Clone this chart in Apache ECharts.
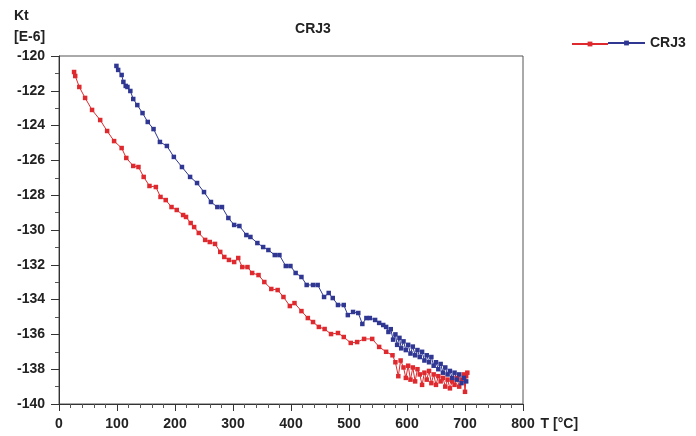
<!DOCTYPE html>
<html>
<head>
<meta charset="utf-8">
<script src="https://cdn.jsdelivr.net/npm/echarts@6/dist/echarts.min.js"></script>
<style>html,body{margin:0;padding:0;background:#fff}#c{width:696px;height:436px}</style>
</head>
<body>
<div id="c"></div>
<script>
// Heating branch (red) - temperature [°C]
const redT = [26,28,35,45,57,71,83,95,108,116,128,137,146,156,167,175,184,194,203,214,219,227,233,241,252,260,269,278,285,293,302,309,316,325,333,344,354,366,377,387,398,406,418,429,438,448,458,469,481,491,503,514,526,540,552,564,575,580,585,589,594,598,602,606,610,614,618,622,626,630,634,638,642,646,650,654,658,662,666,670,674,678,682,686,690,694,698,700,702,704];
const redK = [-120.92,-121.15,-121.78,-122.41,-123.10,-123.68,-124.31,-124.89,-125.29,-125.86,-126.32,-126.38,-126.95,-127.47,-127.53,-128.10,-128.28,-128.68,-128.85,-129.14,-129.25,-129.60,-129.83,-130.17,-130.57,-130.69,-130.80,-131.26,-131.55,-131.72,-131.84,-131.61,-132.13,-132.13,-132.47,-132.59,-132.99,-133.39,-133.45,-133.85,-134.37,-134.20,-134.66,-135.06,-135.29,-135.57,-135.69,-135.98,-135.92,-136.15,-136.49,-136.44,-136.26,-136.26,-136.72,-137.0,-137.2,-137.6,-138.4,-137.5,-137.9,-138.5,-137.8,-138.6,-137.9,-138.7,-138.0,-138.3,-138.9,-138.2,-138.6,-138.1,-138.8,-138.3,-138.9,-138.4,-138.7,-138.5,-139.0,-138.6,-139.1,-138.7,-138.9,-138.5,-139.0,-138.6,-138.3,-139.3,-138.4,-138.2];
// Cooling branch (blue)
const blueT = [99,102,108,111,115,118,123,128,135,144,153,163,174,186,198,212,226,238,250,262,273,281,292,302,311,323,330,342,352,361,372,380,391,399,408,418,427,438,446,457,465,472,481,491,498,507,516,523,530,536,545,552,559,564,568,572,576,580,583,587,590,594,598,602,606,610,614,618,622,626,630,634,638,642,646,650,654,658,662,666,670,674,678,682,686,690,694,698,702];
const blueK = [-120.57,-120.80,-121.09,-121.49,-121.72,-121.78,-122.01,-122.47,-122.82,-123.28,-123.79,-124.20,-124.94,-125.17,-125.80,-126.38,-126.95,-127.30,-127.82,-128.39,-128.68,-128.68,-129.31,-129.71,-129.77,-130.29,-130.40,-130.75,-130.98,-131.15,-131.44,-131.44,-132.07,-132.07,-132.47,-132.70,-133.16,-133.16,-133.16,-133.85,-133.62,-133.91,-134.31,-134.31,-134.89,-134.71,-134.77,-135.40,-135.06,-135.06,-135.17,-135.34,-135.46,-135.57,-135.86,-135.7,-136.3,-136.0,-136.6,-136.2,-136.8,-136.4,-136.9,-136.6,-137.1,-136.7,-137.2,-136.9,-137.3,-137.0,-137.5,-137.2,-137.6,-137.3,-137.8,-137.6,-138.0,-137.7,-138.2,-137.9,-138.3,-138.1,-138.5,-138.2,-138.6,-138.3,-138.8,-138.5,-138.7];
const seriesName = 'CRJ3';
const xMin = 0, xMax = 800, xStep = 100;
const yMin = -140, yMax = -120, yStep = 2;

const RED = '#de2a2e', BLUE = '#2f3793';
const FONT = '"Liberation Sans", Arial, sans-serif';
const zip = (a, b) => a.map((v, i) => [v, b[i]]);

const chart = echarts.init(document.getElementById('c'), null, {renderer: 'canvas'});
chart.setOption({
  animation: false,
  backgroundColor: '#fff',
  title: [
    {text: seriesName, left: 308, top: 17, textAlign: 'center',
     textStyle: {fontFamily: FONT, fontWeight: 'bold', fontSize: 14, color: '#222'}},
    {text: 'Kt\n[E-6]', left: 9, top: 1,
     textStyle: {fontFamily: FONT, fontWeight: 'bold', fontSize: 14, color: '#222', lineHeight: 21}}
  ],
  legend: [
    {left: 566, top: 36, itemWidth: 36, itemHeight: 6, data: [seriesName + ' '],
     formatter: () => '', textStyle: {fontSize: 1}},
    {left: 602, top: 31, itemWidth: 37, itemHeight: 6, itemGap: 4, data: [seriesName],
     textStyle: {fontFamily: FONT, fontWeight: 'bold', fontSize: 14, color: '#222'}}
  ],
  grid: {left: 59, right: 173, top: 56, bottom: 32, show: true, borderColor: '#555', borderWidth: 1},
  xAxis: {
    type: 'value', min: xMin, max: xMax, interval: xStep,
    name: 'T [°C]', nameLocation: 'end', nameGap: 12,
    nameTextStyle: {fontFamily: FONT, fontWeight: 'bold', fontSize: 14, color: '#222', align: 'left', verticalAlign: 'top', padding: [13, 0, 0, 0]},
    axisLine: {show: true, lineStyle: {color: '#333', width: 1}},
    axisTick: {show: true, length: 7, lineStyle: {color: '#333'}},
    minorTick: {show: true, splitNumber: 5, length: 4, lineStyle: {color: '#555'}},
    splitLine: {show: false},
    axisLabel: {fontFamily: FONT, fontWeight: 'bold', fontSize: 14, color: '#222', margin: 13}
  },
  yAxis: {
    type: 'value', min: yMin, max: yMax, interval: yStep,
    axisLine: {show: true, lineStyle: {color: '#333', width: 1}},
    axisTick: {show: true, length: 8, lineStyle: {color: '#333'}},
    minorTick: {show: true, splitNumber: 2, length: 4, lineStyle: {color: '#555'}},
    splitLine: {show: false},
    axisLabel: {fontFamily: FONT, fontWeight: 'bold', fontSize: 14, color: '#222', margin: 14}
  },
  series: [
    {name: seriesName + ' ', type: 'line', data: zip(redT, redK), color: RED,
     symbol: 'rect', symbolSize: 4.5, showSymbol: true, lineStyle: {width: 1, color: RED},
     itemStyle: {color: RED}},
    {name: seriesName, type: 'line', data: zip(blueT, blueK), color: BLUE,
     symbol: 'rect', symbolSize: 4.5, showSymbol: true, lineStyle: {width: 1, color: BLUE},
     itemStyle: {color: BLUE}}
  ]
});
</script>
</body>
</html>
